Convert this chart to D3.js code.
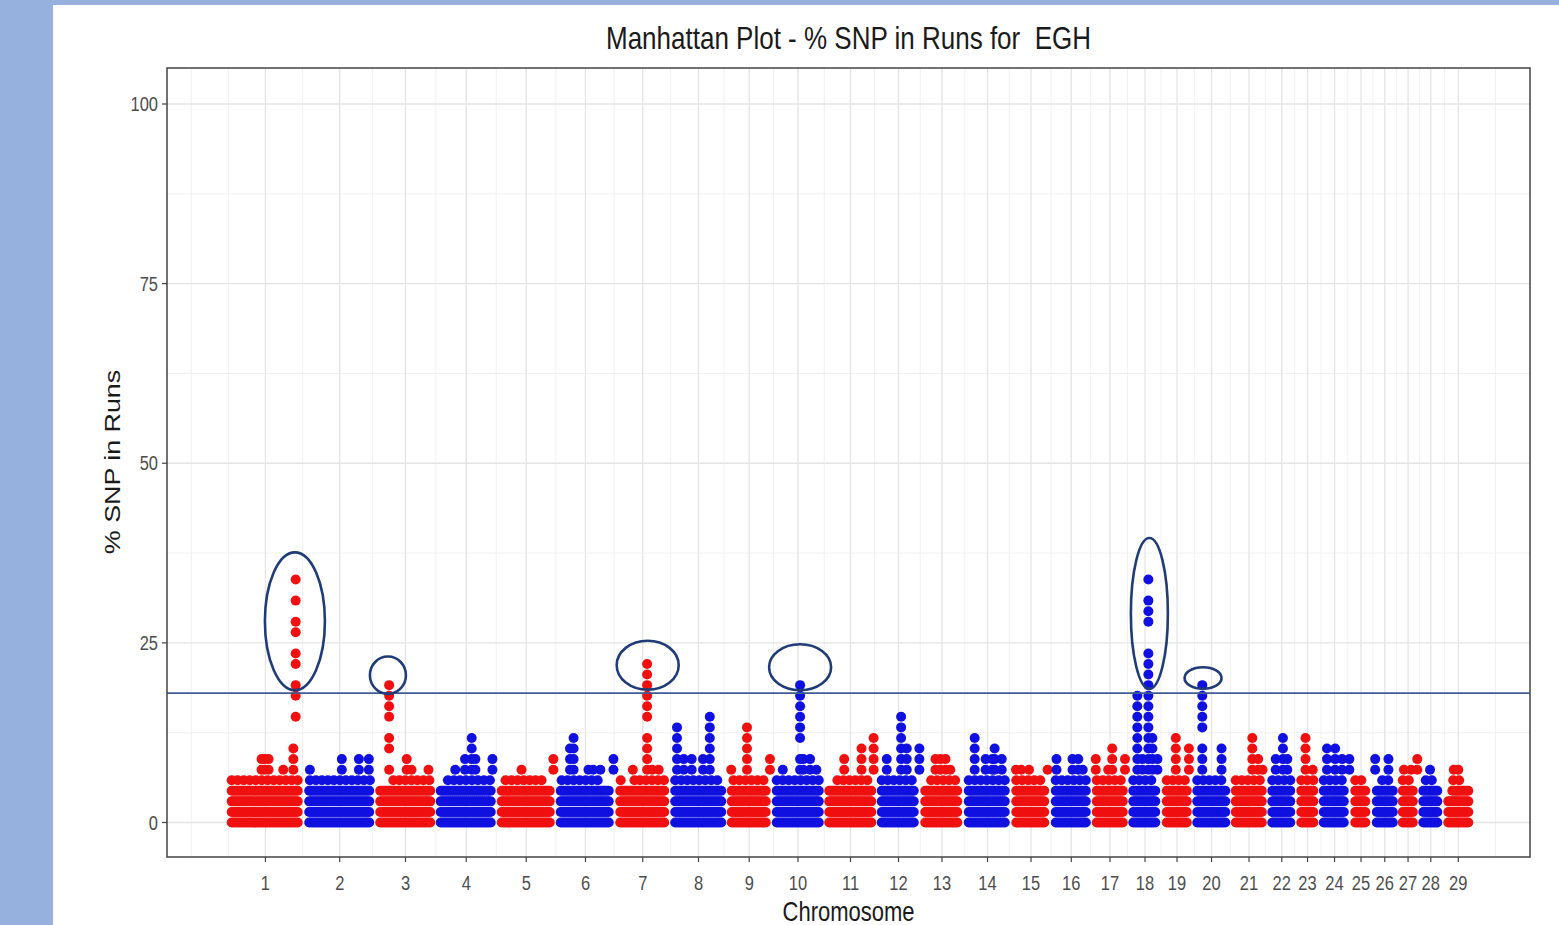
<!DOCTYPE html>
<html><head><meta charset="utf-8">
<script src="https://cdn.jsdelivr.net/npm/d3@7"></script>
<style>
body{margin:0;background:#fff;}
svg text{font-family:"Liberation Sans",Arial,sans-serif;}
</style></head><body>
<svg id="chart" width="1559" height="925"></svg>
<script>
// ---------------- DATA ----------------
const chromosomes = ["1","2","3","4","5","6","7","8","9","10","11","12","13","14","15","16","17","18","19","20","21","22","23","24","25","26","27","28","29"];
const chrLengthMb = [155,142,121,122,118,119,110,113,90,105,105,87,87,95,79,82,73,67,61,77,73,58,45,63,43,52,41,50,60];
const nAnimals = 68;               // % SNP in runs = count / nAnimals * 100
const yTicks = [0,25,50,75,100];
const thresholdPct = 18;

// number of fully populated low levels (counts 0..n-1) per chromosome
const fullLevels = [4,4,4,4,4,4,4,4,4,4,4,4,4,4,4,4,4,4,4,4,4,4,4,4,4,4,4,4,3];
// partial stretch of count 3 (relative position along chromosome)
const partialLevel3 = [["29",0.3,1.0]];
// stretches (relative positions) where count 4 occurs
const level4Segments = [
  ["1",0.03,0.98],["2",0.08,0.98],["3",0.3,0.98],["4",0.2,0.98],["5",0.15,0.85],
  ["6",0.1,0.75],["7",0.1,0.12],["7",0.35,0.37],["7",0.45,0.98],["8",0.05,0.98],["9",0.15,0.98],
  ["10",0.05,0.95],["11",0.25,0.98],["12",0.05,0.98],["13",0.25,0.95],["14",0.02,0.95],
  ["15",0.05,0.98],["16",0.05,0.95],["17",0.02,0.98],["18",0.02,0.98],["19",0.02,0.98],
  ["20",0.05,0.98],["21",0.02,0.98],["22",0.02,0.98],["23",0.1,0.9],["24",0.02,0.98],
  ["25",0.05,0.95],["26",0.4,0.95],["27",0.05,0.98],["28",0.3,0.7],["29",0.33,0.55]
];
// higher counts: [chromosome, relative position, counts]
const upperColumns = [
  ["1",0.45,[5,6]],["1",0.49,[5,6]],["1",0.54,[5,6]],["1",0.73,[5]],["1",0.86,[5,6,7]],
  ["1",0.89,[10,12,13,15,16,18,19,21,23]],
  ["2",0.08,[5]],["2",0.53,[5,6]],["2",0.77,[5,6]],["2",0.91,[5,6]],
  ["3",0.23,[5,7,8,10,11,12,13]],["3",0.52,[5,6]],["3",0.6,[5]],["3",0.88,[5]],
  ["4",0.32,[5]],["4",0.48,[5,6]],["4",0.59,[5,6,7,8]],["4",0.65,[5,6]],["4",0.93,[5,6]],
  ["5",0.42,[5]],["5",0.96,[5,6]],
  ["6",0.24,[5,6,7]],["6",0.3,[5,6,7,8]],["6",0.55,[5]],["6",0.63,[5]],["6",0.75,[5]],["6",0.97,[5,6]],
  ["7",0.32,[5]],["7",0.58,[5,6,7,8,10,11,12,13,14,15]],["7",0.67,[5]],["7",0.79,[5]],
  ["8",0.12,[5,6,7,8,9]],["8",0.24,[5,6]],["8",0.38,[5,6]],["8",0.58,[5,6]],["8",0.7,[5,6,7,8,9,10]],
  ["9",0.1,[5]],["9",0.45,[5,6,7,8,9]],["9",0.96,[5,6]],
  ["10",0.21,[5]],["10",0.54,[5,6,8,9,10,11,12,13]],["10",0.6,[5,6]],["10",0.73,[5,6]],["10",0.85,[5]],
  ["11",0.38,[5,6]],["11",0.71,[5,6,7]],["11",0.94,[5,6,7,8]],
  ["12",0.23,[5,6]],["12",0.56,[5,6,7,8,9,10]],["12",0.69,[5,6,7]],["12",0.98,[5,6,7]],
  ["13",0.35,[5,6]],["13",0.46,[5,6]],["13",0.58,[5,6]],["13",0.69,[5]],
  ["14",0.23,[5,6,7,8]],["14",0.46,[5,6]],["14",0.6,[5,6]],["14",0.65,[5,6,7]],["14",0.8,[5,6]],
  ["15",0.12,[5]],["15",0.25,[5]],["15",0.45,[5]],["15",0.92,[5]],
  ["16",0.14,[5,6]],["16",0.53,[5,6]],["16",0.67,[5,6]],["16",0.78,[5]],
  ["17",0.11,[5,6]],["17",0.45,[5]],["17",0.56,[5,6,7]],["17",0.91,[5,6]],
  ["18",0.27,[5,6,7,8,9,10,11,12]],["18",0.42,[5,6]],
  ["18",0.6,[5,6,7,8,9,10,11,12,13,14,15,16,19,20,21,23]],["18",0.72,[5,6,7,8]],["18",0.87,[5,6]],
  ["19",0.46,[5,6,7,8]],["19",0.89,[5,6,7]],
  ["20",0.26,[5,6,7,9,10,11,12,13]],["20",0.76,[5,6,7]],
  ["21",0.59,[5,6,7,8]],["21",0.75,[5,6]],["21",0.87,[5]],
  ["22",0.29,[5,6]],["22",0.54,[5,6,7,8]],["22",0.69,[5,6]],
  ["23",0.41,[5,6,7,8]],["23",0.73,[5]],
  ["24",0.26,[5,6,7]],["24",0.52,[5,6,7]],["24",0.74,[5,6]],["24",0.97,[5,6]],
  ["26",0.13,[5,6]],["26",0.64,[5,6]],
  ["27",0.3,[5]],["27",0.65,[5]],["27",0.95,[5,6]],
  ["28",0.47,[5]],
  ["29",0.35,[5]],["29",0.5,[5]]
];
// highlight ellipses: [chromosome, relative position, centre %, half-width Mb, half-height %]
const highlights = [
  ["1",0.88,28.0,60,9.6],["3",0.21,20.5,36,2.6],["7",0.59,21.9,62,3.4],
  ["10",0.54,21.6,62,3.2],["18",0.63,29.1,37,10.5],["20",0.28,20.1,37,1.5]
];
const chrColors = ["#f01010","#1010e0"];

// ---------------- CHART ----------------
const svg = d3.select("#chart");
const panel = {l:167, r:1530, t:68, b:857};
const R = 5;

const offsets = [];
let acc = 0;
chrLengthMb.forEach(L => { offsets.push(acc); acc += L; });
const total = acc;
const idx = c => chromosomes.indexOf(c);

const x = d3.scaleLinear().domain([0,total]).range([226.7,1473.3]);
const y = d3.scaleLinear().domain([0,100]).range([822.5,104]);
const pct = k => k / nAnimals * 100;
const colorOf = c => chrColors[idx(c) % 2];

// background decorations
svg.append("rect").attr("x",0).attr("y",0).attr("width",1559).attr("height",925).attr("fill","#fff");
svg.append("rect").attr("x",0).attr("y",0).attr("width",1559).attr("height",5).attr("fill","#97b1df");
svg.append("rect").attr("x",0).attr("y",0).attr("width",53).attr("height",925).attr("fill","#97b1df");

// grid
const centers = chromosomes.map((c,i) => offsets[i] + chrLengthMb[i]/2);
const bd = centers[1]-centers[0];
const ext = [centers[0]-bd, ...centers, centers[centers.length-1]+bd];
const minorX = [];
for (let i=0;i<ext.length-1;i++){ minorX.push(ext[i]); minorX.push((ext[i]+ext[i+1])/2); }
minorX.push(ext[ext.length-1]);
const minorXf = minorX.filter(v => !centers.includes(v) && x(v) > panel.l && x(v) < panel.r);
const g = svg.append("g");
g.selectAll("line.vmin").data(minorXf).join("line")
  .attr("x1",d=>x(d)).attr("x2",d=>x(d)).attr("y1",panel.t).attr("y2",panel.b)
  .attr("stroke","#eeeeee").attr("stroke-width",0.9);
const minorY = [12.5,37.5,62.5,87.5];
g.selectAll("line.hmin").data(minorY).join("line")
  .attr("x1",panel.l).attr("x2",panel.r).attr("y1",d=>y(d)).attr("y2",d=>y(d))
  .attr("stroke","#eeeeee").attr("stroke-width",0.9);
g.selectAll("line.vmaj").data(centers).join("line")
  .attr("x1",d=>x(d)).attr("x2",d=>x(d)).attr("y1",panel.t).attr("y2",panel.b)
  .attr("stroke","#e4e4e4").attr("stroke-width",1.3);
g.selectAll("line.hmaj").data(yTicks).join("line")
  .attr("x1",panel.l).attr("x2",panel.r).attr("y1",d=>y(d)).attr("y2",d=>y(d))
  .attr("stroke","#e4e4e4").attr("stroke-width",1.3);

// build points
const pts = [];
const padMb = x.invert(x(0)+R) - x.invert(x(0));
function fillStretch(ci, a, b, count, stepMb){
  const L = chrLengthMb[ci];
  const s = Math.max(a*L, padMb), e = Math.min(b*L, L-padMb);
  for (let p=s; p<=e+1e-9; p+=stepMb) pts.push({c:chromosomes[ci], pos:offsets[ci]+p, v:pct(count)});
}
chromosomes.forEach((c,ci) => {
  for (let k=0;k<fullLevels[ci];k++) fillStretch(ci,0,1,k,4);
});
partialLevel3.forEach(([c,a,b]) => fillStretch(idx(c),a,b,3,4));
level4Segments.forEach(([c,a,b]) => fillStretch(idx(c),a,b,4,12));
upperColumns.forEach(([c,rel,counts]) => {
  const ci = idx(c);
  counts.forEach(k => pts.push({c, pos:offsets[ci]+rel*chrLengthMb[ci], v:pct(k)}));
});

svg.append("g").selectAll("circle").data(pts).join("circle")
  .attr("cx",d=>x(d.pos)).attr("cy",d=>y(d.v)).attr("r",R)
  .attr("fill",d=>colorOf(d.c));

// threshold line
svg.append("line").attr("x1",panel.l).attr("x2",panel.r)
  .attr("y1",y(thresholdPct)).attr("y2",y(thresholdPct))
  .attr("stroke","#3f5c95").attr("stroke-width",1.6);

// highlight ellipses
svg.append("g").selectAll("ellipse").data(highlights).join("ellipse")
  .attr("cx",d=>x(offsets[idx(d[0])]+d[1]*chrLengthMb[idx(d[0])]))
  .attr("cy",d=>y(d[2]))
  .attr("rx",d=>x(d[3])-x(0))
  .attr("ry",d=>y(0)-y(d[4]))
  .attr("fill","none").attr("stroke","#1f3c78").attr("stroke-width",2.6);

// panel border
svg.append("rect").attr("x",panel.l).attr("y",panel.t)
  .attr("width",panel.r-panel.l).attr("height",panel.b-panel.t)
  .attr("fill","none").attr("stroke","#444").attr("stroke-width",1.5);

// axes ticks
const axisG = svg.append("g");
axisG.selectAll("line.yt").data(yTicks).join("line")
  .attr("x1",panel.l-5).attr("x2",panel.l).attr("y1",d=>y(d)).attr("y2",d=>y(d))
  .attr("stroke","#444").attr("stroke-width",1.2);
axisG.selectAll("text.yl").data(yTicks).join("text")
  .attr("transform",d=>`translate(${panel.l-9},${y(d)+7}) scale(1,1.22)`)
  .attr("text-anchor","end").attr("font-size",16.5).attr("fill","#4d4d4d")
  .text(d=>d);
axisG.selectAll("line.xt").data(centers).join("line")
  .attr("x1",d=>x(d)).attr("x2",d=>x(d)).attr("y1",panel.b).attr("y2",panel.b+5)
  .attr("stroke","#444").attr("stroke-width",1.2);
axisG.selectAll("text.xl").data(chromosomes).join("text")
  .attr("transform",(d,i)=>`translate(${x(centers[i])},${890}) scale(1,1.22)`)
  .attr("text-anchor","middle").attr("font-size",16.5).attr("fill","#4d4d4d")
  .text(d=>d);

// titles
svg.append("text").attr("transform","translate(848.5,48.5) scale(1,1.22)")
  .attr("text-anchor","middle").attr("font-size",26).attr("fill","#1a1a1a")
  .style("white-space","pre").text("Manhattan Plot - % SNP in Runs for  EGH");
svg.append("text").attr("transform","translate(848.5,921) scale(1,1.22)")
  .attr("text-anchor","middle").attr("font-size",22).attr("fill","#1a1a1a")
  .text("Chromosome");
svg.append("text").attr("transform","translate(120,462) rotate(-90) scale(1.22,1)")
  .attr("text-anchor","middle").attr("font-size",22).attr("fill","#1a1a1a")
  .text("% SNP in Runs");
</script>
</body></html>
